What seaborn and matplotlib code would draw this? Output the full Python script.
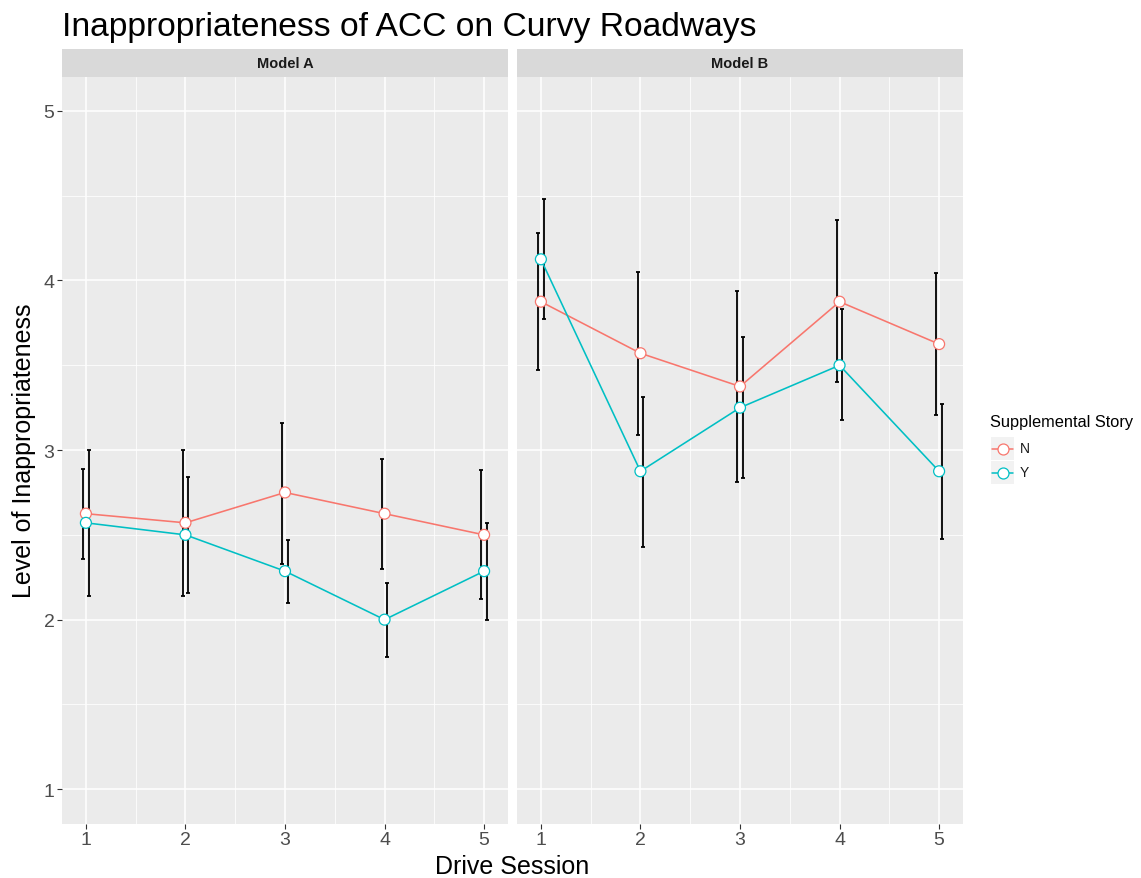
import matplotlib
matplotlib.use("Agg")
import numpy as np
import pandas as pd
import seaborn as sns
import matplotlib.pyplot as plt
from matplotlib.lines import Line2D
from matplotlib.patches import Rectangle
from matplotlib.ticker import AutoMinorLocator

# ---------------- data ----------------
sessions = [1, 2, 3, 4, 5]
models = ["Model A", "Model B"]
stories = ["N", "Y"]

a_n_mean = [2.625, 2.571, 2.75, 2.625, 2.5]
a_n_lo = [2.36, 2.14, 2.33, 2.30, 2.12]
a_n_hi = [2.89, 3.00, 3.16, 2.95, 2.88]
a_y_mean = [2.571, 2.5, 2.286, 2.0, 2.286]
a_y_lo = [2.14, 2.155, 2.10, 1.78, 2.0]
a_y_hi = [3.00, 2.84, 2.47, 2.215, 2.57]

b_n_mean = [3.875, 3.571, 3.375, 3.875, 3.625]
b_n_lo = [3.475, 3.09, 2.81, 3.40, 3.205]
b_n_hi = [4.28, 4.05, 3.94, 4.355, 4.045]
b_y_mean = [4.125, 2.875, 3.25, 3.5, 2.875]
b_y_lo = [3.775, 2.43, 2.835, 3.175, 2.475]
b_y_hi = [4.48, 3.315, 3.665, 3.83, 3.27]

title = "Inappropriateness of ACC on Curvy Roadways"
x_label = "Drive Session"
y_label = "Level of Inappropriateness"
legend_title = "Supplemental Story"

rows = []
for model, story, means, los, his in [
    ("Model A", "N", a_n_mean, a_n_lo, a_n_hi),
    ("Model A", "Y", a_y_mean, a_y_lo, a_y_hi),
    ("Model B", "N", b_n_mean, b_n_lo, b_n_hi),
    ("Model B", "Y", b_y_mean, b_y_lo, b_y_hi),
]:
    for s, m, lo, hi in zip(sessions, means, los, his):
        rows.append(dict(Model=model, Story=story, Session=s, Mean=m, Lo=lo, Hi=hi))
df = pd.DataFrame(rows)

# ---------------- style ----------------
sns.set_theme(style="darkgrid")
plt.rcParams["font.family"] = ["Liberation Sans", "DejaVu Sans"]
palette = {"N": "#F8766D", "Y": "#00BFC4"}
dodge = {"N": -0.027, "Y": 0.027}

W, H = 1141, 879
fig = plt.figure(figsize=(W / 100, H / 100), dpi=100)
fig.patch.set_facecolor("white")

panel_top, panel_bot = 78, 825
panels = {"Model A": (62, 508), "Model B": (517, 963)}

axes = {}
for model in models:
    x0, x1 = panels[model]
    ax = fig.add_axes([x0 / W, 1 - panel_bot / H, (x1 - x0) / W, (panel_bot - panel_top) / H])
    axes[model] = ax
    sub = df[df.Model == model]

    # error bars (dodged)
    for story in stories:
        d = sub[sub.Story == story]
        ax.errorbar(d.Session + dodge[story], d.Mean,
                    yerr=[d.Mean - d.Lo, d.Hi - d.Mean],
                    fmt="none", ecolor="black", elinewidth=1.3,
                    capsize=1.4, capthick=1.3, zorder=2)

    sns.lineplot(data=sub, x="Session", y="Mean", hue="Story", hue_order=stories,
                 palette=palette, errorbar=None, legend=False, lw=1.15,
                 ax=ax, zorder=3)
    sns.scatterplot(data=sub, x="Session", y="Mean", hue="Story", hue_order=stories,
                    palette=palette, s=62, legend=False, ax=ax, zorder=4)
    for coll in ax.collections:
        if coll.get_zorder() == 4:
            fc = coll.get_facecolors()
            coll.set_edgecolors(fc)
            coll.set_facecolor("white")
            coll.set_linewidth(0.9)

    ax.set_facecolor("#EBEBEB")
    ax.set_xlim(0.76, 5.24)
    ax.set_ylim(0.795, 5.2)
    ax.set_xticks(sessions)
    ax.set_yticks([1, 2, 3, 4, 5])
    ax.xaxis.set_minor_locator(AutoMinorLocator(2))
    ax.yaxis.set_minor_locator(AutoMinorLocator(2))
    ax.grid(which="major", color="white", lw=1.1)
    ax.grid(which="minor", color="white", lw=0.55)
    ax.set_axisbelow(True)
    for sp in ax.spines.values():
        sp.set_visible(False)
    ax.tick_params(which="minor", length=0)
    ax.tick_params(axis="x", which="major", length=3.4, width=0.8, color="#333333",
                   labelsize=14, labelcolor="#4D4D4D", pad=1.5, bottom=True)
    ax.tick_params(axis="y", which="major", length=3.4, width=0.8, color="#333333",
                   labelsize=14, labelcolor="#4D4D4D", pad=2, left=True)
    ax.set_xlabel("")
    ax.set_ylabel("")

    # strip
    strip = Rectangle((x0 / W, 1 - panel_top / H), (x1 - x0) / W, 28 / H,
                      transform=fig.transFigure, facecolor="#D9D9D9", edgecolor="none")
    fig.patches.append(strip)
    fig.text((x0 + x1) / 2 / W, 1 - 64 / H, model, ha="center", va="center",
             fontsize=10.5, fontweight="bold", color="#1A1A1A")

axes["Model B"].tick_params(axis="y", left=False, labelleft=False)

# titles / labels
fig.text(62 / W, 1 - 36 / H, title, ha="left", va="baseline", fontsize=24.2, color="black")
fig.text(512.5 / W, 1 - 874 / H, x_label, ha="center", va="baseline", fontsize=18, color="black")
fig.text(31.5 / W, 1 - 451 / H, y_label, ha="center", va="baseline", rotation=90,
         rotation_mode="anchor", fontsize=18, color="black")

# legend (manual, ggplot style)
fig.text(990 / W, 1 - 427.5 / H, legend_title, ha="left", va="baseline", fontsize=11.8, color="black")
key_x0, key_w, key_h = 991, 23, 23
for i, story in enumerate(stories):
    ky0 = 438 + i * 24
    fig.patches.append(Rectangle((key_x0 / W, 1 - (ky0 + key_h) / H), key_w / W, key_h / H,
                                 transform=fig.transFigure, facecolor="#F2F2F2", edgecolor="none"))
    yc = 1 - (ky0 + key_h / 2) / H
    fig.lines.append(Line2D([(key_x0 + 1) / W, (key_x0 + key_w - 1) / W], [yc, yc],
                            transform=fig.transFigure, color=palette[story], lw=1.1))
    fig.lines.append(Line2D([(key_x0 + key_w / 2) / W], [yc], transform=fig.transFigure,
                            marker="o", markersize=7.9, markerfacecolor="white",
                            markeredgecolor=palette[story], markeredgewidth=0.9, lw=0))
    fig.text(1020 / W, yc, story, ha="left", va="center", fontsize=10, color="#1A1A1A")

fig.savefig("out.png", dpi=100)
